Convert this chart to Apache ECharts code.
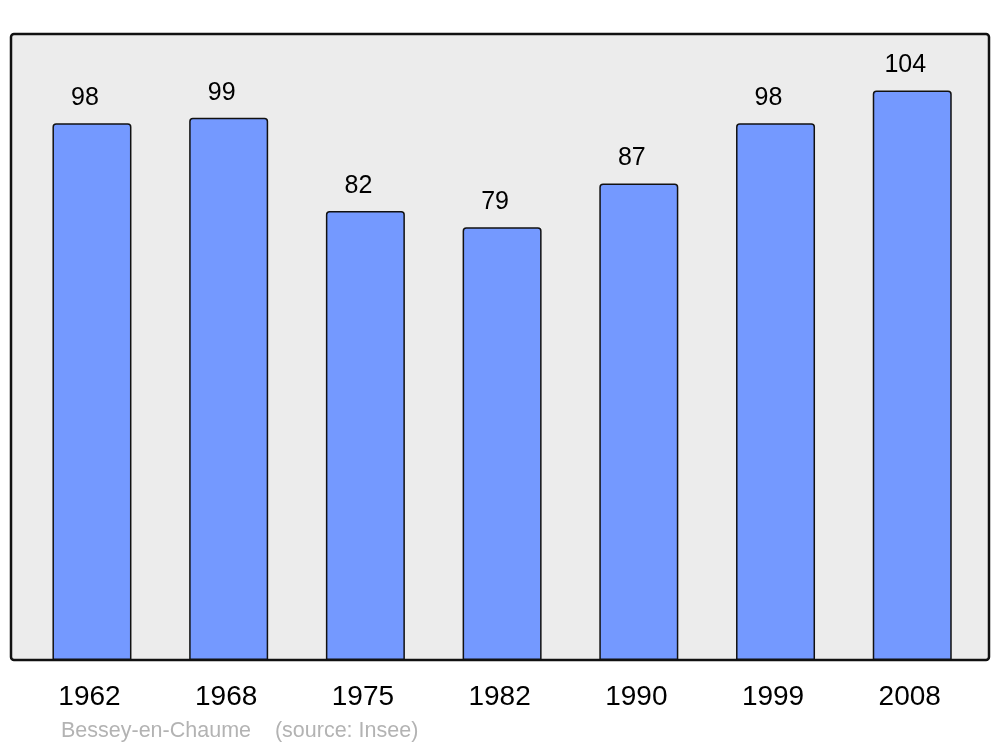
<!DOCTYPE html>
<html>
<head>
<meta charset="utf-8">
<script src="https://cdn.jsdelivr.net/npm/echarts@6/dist/echarts.min.js"></script>
<style>html,body{margin:0;padding:0;background:#fff;}#c{width:1000px;height:747px;}</style>
</head>
<body>
<div id="c"></div>
<script>
const years = ['1962','1968','1975','1982','1990','1999','2008'];
const population = [98, 99, 82, 79, 87, 98, 104];
const sourceText = 'Bessey-en-Chaume    (source: Insee)';

const chart = echarts.init(document.getElementById('c'), null, {renderer: 'canvas'});
chart.setOption({
  animation: false,
  backgroundColor: '#ffffff',
  textStyle: {fontFamily: 'Liberation Sans, Arial, sans-serif'},
  graphic: [
    {type: 'rect', z: -10, shape: {x: 11, y: 34, width: 978, height: 626, r: 3},
     style: {fill: '#ececec', stroke: '#111', lineWidth: 2.5}},
    {type: 'text', left: 61, top: 720,
     style: {text: sourceText, fill: '#b3b3b3', font: '21.5px "Liberation Sans", Arial, sans-serif'}}
  ],
  grid: {left: 23.6, right: 19.4, top: 34, bottom: 87},
  xAxis: {
    type: 'category', data: years,
    axisLine: {show: false}, axisTick: {show: false},
    axisLabel: {color: '#000', fontSize: 28, margin: 23, fontFamily: 'Liberation Sans',
                padding: [0, 5, 0, 0]}
  },
  yAxis: {
    type: 'value', min: 0, max: 114.3,
    show: false, splitLine: {show: false}
  },
  series: [{
    type: 'bar', data: population, barWidth: 79,
    itemStyle: {color: '#7499ff', borderColor: '#111', borderWidth: 1.5, borderRadius: [3,3,0,0]},
    label: {show: true, position: 'top', distance: 12.5, offset: [-7, 0], color: '#000', fontSize: 25, fontFamily: 'Liberation Sans'}
  }]
});
</script>
</body>
</html>
